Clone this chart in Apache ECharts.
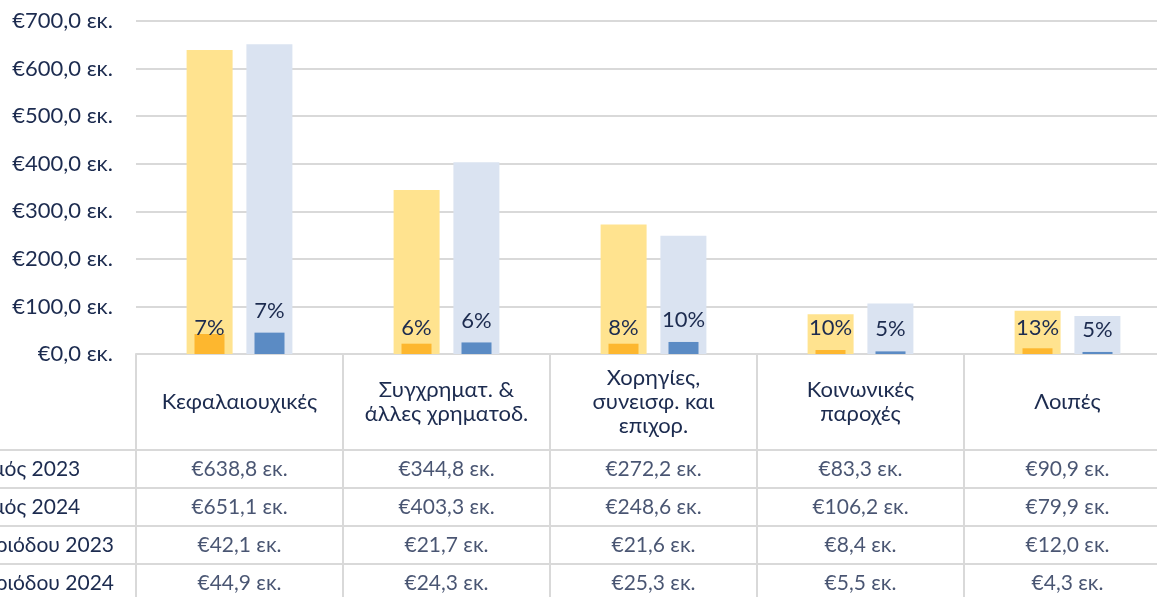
<!DOCTYPE html>
<html>
<head>
<meta charset="utf-8">
<script src="https://cdn.jsdelivr.net/npm/echarts@6/dist/echarts.min.js"></script>
<style>
  html, body { margin: 0; padding: 0; background: #fff; }
  #main { width: 1157px; height: 597px; }
</style>
</head>
<body>
<div id="main"></div>
<script>
// κατηγορίες και τιμές (εκ. €)
var categories = ['Κεφαλαιουχικές', 'Συγχρηματ. &\nάλλες χρηματοδ.', 'Χορηγίες,\nσυνεισφ. και\nεπιχορ.', 'Κοινωνικές\nπαροχές', 'Λοιπές'];
var rowLabels = ['Προϋπολογισμός 2023', 'Προϋπολογισμός 2024', 'Υλοποίηση περιόδου 2023', 'Υλοποίηση περιόδου 2024'];
var total2023 = [638.8, 344.8, 272.2, 83.3, 90.9];
var total2024 = [651.1, 403.3, 248.6, 106.2, 79.9];
var period2023 = [42.1, 21.7, 21.6, 8.4, 12.0];
var period2024 = [44.9, 24.3, 25.3, 5.5, 4.3];
var yTicks = [0, 100, 200, 300, 400, 500, 600, 700];

var FONT = 'Lato, "Open Sans", sans-serif';
var TEXT = '#1C2B4F';
var LINE = '#D9D9D9';

function eur(v) {
    return '€' + v.toFixed(1).replace('.', ',') + ' εκ.';
}
function pct(a, b) {
    return Math.round(a / b * 100) + '%';
}

// δεδομένα πίνακα
var tableRows = [total2023, total2024, period2023, period2024];
var tableData = [];
tableRows.forEach(function (row, r) {
    row.forEach(function (v, c) {
        tableData.push([c, r, v]);
    });
});

var myChart = echarts.init(document.getElementById('main'));

var option = {
    animation: false,
    textStyle: { fontFamily: FONT },
    grid: [
        { left: 136, top: 21, width: 1035, height: 333, outerBoundsMode: 'none', containLabel: false },
        { left: 136, top: 450, width: 1035, height: 152, outerBoundsMode: 'none', containLabel: false }
    ],
    xAxis: [
        {
            type: 'category', gridIndex: 0, data: categories,
            axisLine: { lineStyle: { color: LINE, width: 2 } },
            axisTick: { show: true, length: 96, lineStyle: { color: LINE, width: 2 } },
            axisLabel: {
                color: TEXT, fontSize: 22, fontFamily: FONT, interval: 0,
                margin: 48, verticalAlign: 'middle', lineHeight: 24, align: 'center'
            }
        },
        { type: 'category', gridIndex: 0, data: categories, show: false },
        {
            type: 'category', gridIndex: 1, data: categories,
            axisLine: { show: false }, axisTick: { show: false }, axisLabel: { show: false },
            splitLine: { show: true, lineStyle: { color: LINE, width: 2 } }
        }
    ],
    yAxis: [
        {
            type: 'value', gridIndex: 0, min: yTicks[0], max: yTicks[yTicks.length - 1], interval: 100,
            axisLabel: {
                color: TEXT, fontSize: 22, fontFamily: FONT, margin: 23,
                formatter: function (v) { return eur(v); }
            },
            splitLine: { lineStyle: { color: LINE, width: 2 } }
        },
        {
            type: 'category', gridIndex: 1, data: rowLabels, inverse: true,
            axisLine: { show: true, lineStyle: { color: LINE, width: 2 } },
            axisTick: { show: true, length: 300, lineStyle: { color: LINE, width: 2 } },
            axisLabel: { color: TEXT, fontSize: 21, fontFamily: FONT, align: 'left', margin: 271 },
            splitLine: { show: true, lineStyle: { color: LINE, width: 2 } }
        }
    ],
    series: [
        {
            name: 'Προϋπολογισμός 2023', type: 'bar', xAxisIndex: 0, yAxisIndex: 0,
            data: total2023, barWidth: 46, barGap: '30%',
            itemStyle: { color: '#FFE38F' }
        },
        {
            name: 'Προϋπολογισμός 2024', type: 'bar', xAxisIndex: 0, yAxisIndex: 0,
            data: total2024, barWidth: 46, barGap: '30%',
            itemStyle: { color: '#DAE3F1' }
        },
        {
            name: 'Υλοποίηση περιόδου 2023', type: 'bar', xAxisIndex: 1, yAxisIndex: 0,
            data: period2023, barWidth: 30, barGap: '100%',
            itemStyle: { color: '#FDB72F' },
            label: {
                show: true, position: 'insideBottom', distance: 15,
                color: TEXT, fontSize: 22, fontFamily: FONT,
                formatter: function (p) { return pct(period2023[p.dataIndex], total2023[p.dataIndex]); }
            }
        },
        {
            name: 'Υλοποίηση περιόδου 2024', type: 'bar', xAxisIndex: 1, yAxisIndex: 0,
            data: period2024, barWidth: 30, barGap: '100%',
            itemStyle: { color: '#5B8BC4' },
            label: {
                show: true, position: 'top', distance: 11,
                color: TEXT, fontSize: 22, fontFamily: FONT,
                formatter: function (p) { return pct(period2024[p.dataIndex], total2024[p.dataIndex]); }
            }
        },
        {
            type: 'scatter', xAxisIndex: 2, yAxisIndex: 1,
            data: tableData, symbolSize: 0, silent: true,
            label: {
                show: true, position: 'inside', color: TEXT, fontSize: 21, fontFamily: FONT,
                formatter: function (p) { return eur(p.value[2]); }
            }
        }
    ]
};

myChart.setOption(option);
</script>
</body>
</html>
